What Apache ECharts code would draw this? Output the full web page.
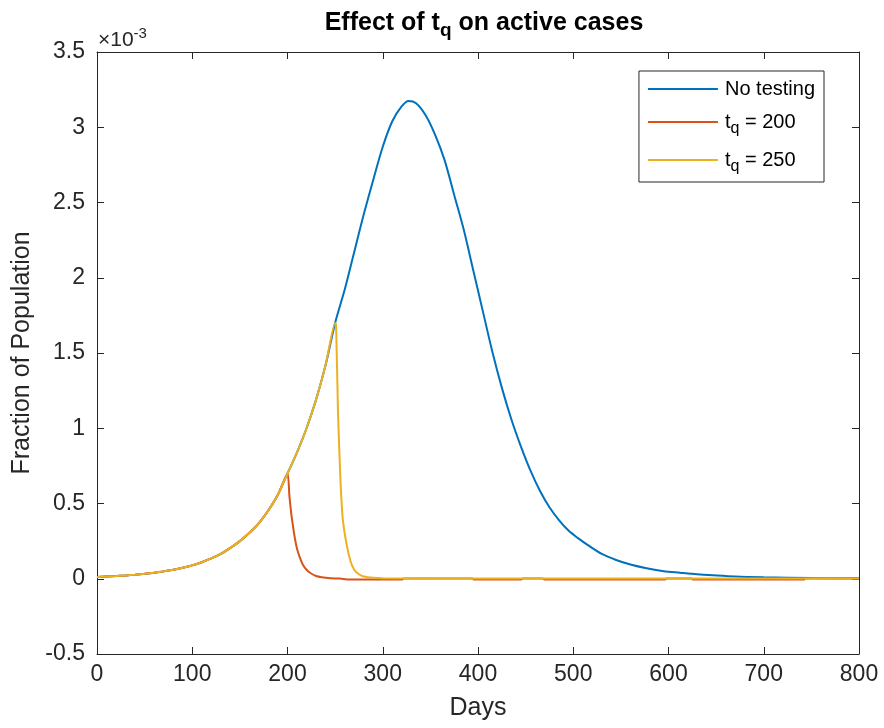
<!DOCTYPE html>
<html>
<head>
<meta charset="utf-8">
<script src="https://cdn.jsdelivr.net/npm/echarts@6/dist/echarts.min.js"></script>
<style>html,body{margin:0;padding:0;background:#fff;}#c{width:884px;height:728px;}</style>
</head>
<body>
<div id="c"></div>
<script>
// Values in units of 10^-3 (fraction of population)
const earlyDays = [0,10,20,30,40,50,60,70,80,90,100,110,120,130,140,150,160,170,180,190,200,210,220,230,240,250];
const earlyVals = [0.012,0.015,0.018,0.022,0.027,0.033,0.040,0.049,0.060,0.073,0.089,0.110,0.135,0.165,0.205,0.250,0.305,0.370,0.455,0.560,0.700,0.840,1.000,1.190,1.420,1.700];

const noTestDays = [260,270,280,290,300,310,320,327,335,345,355,365,375,385,395,405,415,425,435,445,455,465,475,485,495,505,515,530,545,560,577,595,612,630,647,670,700,750,800];
const noTestVals = [1.92,2.17,2.42,2.65,2.87,3.04,3.14,3.175,3.16,3.08,2.95,2.78,2.55,2.32,2.05,1.78,1.51,1.27,1.06,0.88,0.72,0.585,0.475,0.39,0.32,0.27,0.225,0.165,0.125,0.095,0.07,0.05,0.04,0.03,0.023,0.015,0.010,0.005,0.003];

const tq200Days = [202,204,206,208,210,213,216,220,224,230,236,245,255,265,320,322,394,396,445,447,468,470,596,598,624,626,742,744,800];
const tq200Vals = [0.55,0.43,0.34,0.26,0.20,0.14,0.095,0.06,0.038,0.018,0.010,0.004,0.001,-0.005,-0.005,0.001,0.001,-0.005,-0.005,0.001,0.001,-0.005,-0.005,0.001,0.001,-0.005,-0.005,0.001,0.001];

const tq250Days = [251,253,255.5,258,262,266,270,275,280,290,300,400,500,600,700,800];
const tq250Vals = [1.69,1.11,0.67,0.40,0.23,0.12,0.06,0.03,0.015,0.006,0.003,0.002,0.002,0.002,0.001,0.001];

const seriesNames = ['No testing','t_q = 200','t_q = 250'];
const xTicks = {min:0, max:800, interval:100};
const yTicks = {min:-0.5, max:3.5, interval:0.5};

function pairs(d, v, maxDay) {
  const out = [];
  for (let i = 0; i < d.length; i++) if (maxDay === undefined || d[i] <= maxDay) out.push([d[i], v[i]]);
  return out;
}
const blueData = pairs(earlyDays, earlyVals).concat(pairs(noTestDays, noTestVals));
const redData = pairs(earlyDays, earlyVals, 200).concat(pairs(tq200Days, tq200Vals));
const yellowData = pairs(earlyDays, earlyVals).concat(pairs(tq250Days, tq250Vals));

const FONT = 'Liberation Sans, Arial, sans-serif';
const axisCol = '#262626';
const grid = {left:97, right:25, top:52, bottom:74};

function axisCommon(extra) {
  return Object.assign({
    type:'value',
    axisLine:{show:true, onZero:false, lineStyle:{color:axisCol, width:1}},
    axisTick:{show:true, inside:true, length:7, lineStyle:{color:axisCol, width:1}},
    splitLine:{show:false},
  }, extra);
}

const chart = echarts.init(document.getElementById('c'), null, {renderer:'canvas'});
chart.setOption({
  animation:false,
  backgroundColor:'#fff',
  title:{
    text:'{a|Effect of t}{s|q}{a| on active cases}',
    left:479, top:3, textAlign:'center',
    textStyle:{rich:{
      a:{fontFamily:FONT, fontSize:25, fontWeight:'bold', color:'#000', lineHeight:30},
      s:{fontFamily:FONT, fontSize:19, fontWeight:'bold', color:'#000', padding:[16,0,0,0], lineHeight:30}
    }}
  },
  graphic:[{
    type:'text', left:98, top:26,
    style:{text:'{a|×10}{e|-3}', rich:{
      a:{fontFamily:FONT, fontSize:21, fill:axisCol},
      e:{fontFamily:FONT, fontSize:15, fill:axisCol, padding:[0,0,14,0]}
    }}
  }],
  legend:{
    orient:'vertical', right:60, top:71,
    padding:[8,9,7,9], itemGap:8,
    itemWidth:70, itemHeight:2, icon:'rect',
    borderColor:axisCol, borderWidth:1, backgroundColor:'#fff',
    data:seriesNames,
    formatter:function(n){ return n.indexOf('t_q') === 0 ? '{t|t}{s|q}{t|' + n.slice(3) + '}' : '{t|' + n + '}'; },
    textStyle:{fontFamily:FONT, fontSize:20, color:'#000', padding:[0,0,0,2],
      rich:{
        t:{fontFamily:FONT, fontSize:20, color:'#000', lineHeight:25},
        s:{fontFamily:FONT, fontSize:16, color:'#000', padding:[14,0,0,0], lineHeight:25}
      }}
  },
  grid:[grid],
  xAxis:[
    axisCommon(Object.assign({position:'bottom', name:'Days', nameLocation:'middle', nameGap:42,
      nameTextStyle:{fontFamily:FONT, fontSize:25, color:axisCol},
      axisLabel:{fontFamily:FONT, fontSize:23, color:axisCol, margin:9}}, xTicks)),
    axisCommon(Object.assign({position:'top', axisLabel:{show:false}}, xTicks))
  ],
  yAxis:[
    axisCommon(Object.assign({position:'left', name:'Fraction of Population', nameLocation:'middle', nameGap:62,
      nameTextStyle:{fontFamily:FONT, fontSize:25, color:axisCol},
      axisLabel:{fontFamily:FONT, fontSize:23, color:axisCol, margin:12}}, yTicks)),
    axisCommon(Object.assign({position:'right', axisLabel:{show:false}}, yTicks))
  ],
  series:[
    {name:seriesNames[0], type:'line', data:blueData, showSymbol:false, symbol:'none', smooth:0.3,
      lineStyle:{color:'#0072BD', width:2}, itemStyle:{color:'#0072BD'}, z:2},
    {name:seriesNames[1], type:'line', data:redData, showSymbol:false, symbol:'none', smooth:0.2,
      lineStyle:{color:'#D95319', width:2}, itemStyle:{color:'#D95319'}, z:3},
    {name:seriesNames[2], type:'line', data:yellowData, showSymbol:false, symbol:'none', smooth:0.2,
      lineStyle:{color:'#EDB120', width:2}, itemStyle:{color:'#EDB120'}, z:4}
  ]
});
</script>
</body>
</html>
